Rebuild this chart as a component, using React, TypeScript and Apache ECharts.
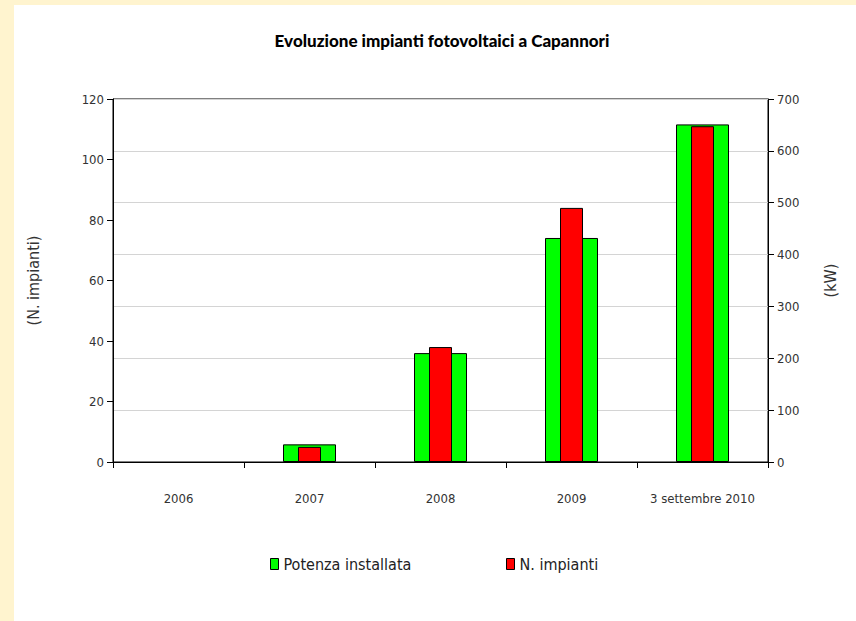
import React, { useEffect, useRef } from "react";
import * as echarts from "echarts";

const categories = ["2006", "2007", "2008", "2009", "3 settembre 2010"];
// Potenza installata (kW) – right axis
const potenzaKW = [0, 34, 210, 432, 651];
// N. impianti – left axis
const numImpianti = [0, 5, 38, 84, 111];

const leftTicks = { min: 0, max: 120, interval: 20 };
const rightTicks = { min: 0, max: 700, interval: 100 };

const labelFont = '"DejaVu Sans Condensed", "Liberation Sans Narrow", "Liberation Sans", Arial, sans-serif';

// Empty years get no outline so nothing sits on the axis line
const toBars = (values: number[], color: string) =>
  values.map((v) => ({
    value: v,
    itemStyle: { color, borderColor: "#000", borderWidth: v === 0 ? 0 : 1 },
  }));

export default function App() {
  const ref = useRef<HTMLDivElement>(null);

  useEffect(() => {
    if (!ref.current) return;
    const chart = echarts.init(ref.current, undefined, { renderer: "svg" });
    const axisLabel = { color: "#333", fontSize: 13, fontFamily: labelFont };
    const legendText = { color: "#222", fontSize: 16, fontFamily: labelFont };
    chart.setOption({
      animation: false,
      backgroundColor: "#fff",
      title: {
        text: "Evoluzione impianti fotovoltaici a Capannori",
        left: 423,
        top: 22,
        textAlign: "center",
        textStyle: {
          fontFamily: "Lato, sans-serif",
          fontWeight: 900,
          fontSize: 17,
          color: "#000",
        },
      },
      grid: {
        left: 99,
        right: 88,
        top: 94,
        bottom: 159,
        show: true,
        borderColor: "#000",
        borderWidth: 1,
        backgroundColor: "transparent",
      },
      legend: [
        {
          data: ["Potenza installata"],
          left: 251,
          top: 546,
          icon: "rect",
          itemWidth: 8,
          itemHeight: 11,
          itemGap: 4,
          itemStyle: { borderColor: "#000", borderWidth: 1 },
          textStyle: legendText,
        },
        {
          data: ["N. impianti"],
          left: 487,
          top: 546,
          icon: "rect",
          itemWidth: 8,
          itemHeight: 11,
          itemGap: 4,
          itemStyle: { borderColor: "#000", borderWidth: 1 },
          textStyle: legendText,
        },
      ],
      xAxis: [
        {
          type: "category",
          data: categories,
          axisLine: { lineStyle: { color: "#000", width: 1 } },
          axisTick: { show: true, length: 6, lineStyle: { color: "#000" } },
          axisLabel: { ...axisLabel, interval: 0, margin: 30 },
        },
        {
          type: "category",
          data: categories,
          show: false,
        },
      ],
      yAxis: [
        {
          type: "value",
          ...leftTicks,
          position: "left",
          name: "(N. impianti)",
          nameLocation: "middle",
          nameRotate: 90,
          nameGap: 72,
          nameTextStyle: { color: "#333", fontSize: 16, fontFamily: labelFont },
          axisLine: { show: true, lineStyle: { color: "#000" } },
          axisTick: { show: true, length: 6, lineStyle: { color: "#000" } },
          axisLabel: { ...axisLabel, margin: 9 },
          splitLine: { show: false },
        },
        {
          type: "value",
          ...rightTicks,
          position: "right",
          name: "(kW)",
          nameLocation: "middle",
          nameRotate: 90,
          nameGap: 54,
          nameTextStyle: { color: "#333", fontSize: 16, fontFamily: labelFont },
          axisLine: { show: true, lineStyle: { color: "#000" } },
          axisTick: { show: true, length: 6, lineStyle: { color: "#000" } },
          axisLabel: { ...axisLabel, margin: 9 },
          splitLine: { show: true, lineStyle: { color: "#d4d4d4", width: 1 } },
        },
      ],
      series: [
        {
          name: "Potenza installata",
          type: "bar",
          xAxisIndex: 0,
          yAxisIndex: 1,
          data: toBars(potenzaKW, "#00ff00"),
          barWidth: 53,
          itemStyle: { color: "#00ff00", borderColor: "#000", borderWidth: 1 },
        },
        {
          name: "N. impianti",
          type: "bar",
          xAxisIndex: 1,
          yAxisIndex: 0,
          data: toBars(numImpianti, "#ff0000"),
          barWidth: 23,
          itemStyle: { color: "#ff0000", borderColor: "#000", borderWidth: 1 },
        },
      ],
    });
    return () => chart.dispose();
  }, []);

  return (
    <div
      style={{
        position: "fixed",
        left: 0,
        top: 0,
        width: 856,
        height: 621,
        background: "#fff4cf",
      }}
    >
      <div
        ref={ref}
        style={{ position: "absolute", left: 14, top: 5, width: 842, height: 616 }}
      />
    </div>
  );
}
